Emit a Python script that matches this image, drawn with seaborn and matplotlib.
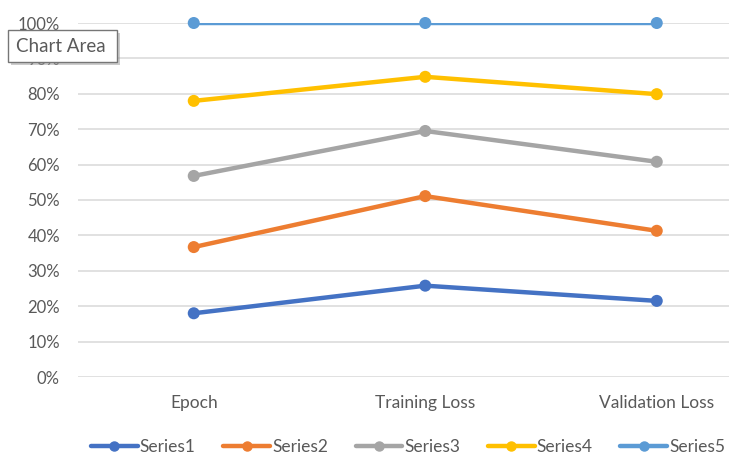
import numpy as np
import pandas as pd
import matplotlib
matplotlib.use("Agg")
import matplotlib.pyplot as plt
from matplotlib.lines import Line2D
from matplotlib.patches import Rectangle
import seaborn as sns

# Categories and per-series shares (percent of each category's total)
categories = ["Epoch", "Training Loss", "Validation Loss"]
series_names = ["Series1", "Series2", "Series3", "Series4", "Series5"]
series1 = [18.0, 25.8, 21.5]
series2 = [18.7, 25.3, 19.8]
series3 = [20.1, 18.4, 19.5]
series4 = [21.2, 15.3, 19.1]
series5 = [22.0, 15.2, 20.1]
y_ticks = [0, 10, 20, 30, 40, 50, 60, 70, 80, 90, 100]
colors = ["#4472C4", "#ED7D31", "#A5A5A5", "#FFC000", "#5B9BD5"]

sns.set_theme(style="white")
plt.rcParams["font.family"] = ["Lato", "DejaVu Sans"]
text_color = "#595959"

# 100% stacked: cumulative share of the category total
values = np.array([series1, series2, series3, series4, series5])
stacked = np.cumsum(values, axis=0) / values.sum(axis=0) * 100
rows = []
for name, vals in zip(series_names, stacked):
    for cat, v in zip(categories, vals):
        rows.append({"category": cat, "series": name, "value": v})
df = pd.DataFrame(rows)

fig = plt.figure(figsize=(7.29, 4.55), dpi=100)
W, H = 729, 455
ax = fig.add_axes([78 / W, (H - 377) / H, 694.5 / W, 354 / H])

palette = dict(zip(series_names, colors))
sns.lineplot(data=df, x="category", y="value", hue="series", palette=palette,
             linewidth=3.2, sort=False, legend=False, ax=ax, zorder=3)
sns.scatterplot(data=df, x="category", y="value", hue="series", palette=palette,
                s=75, linewidth=0, legend=False, ax=ax, zorder=4, clip_on=False)

ax.set_xlim(-0.5, 2.5)
ax.set_ylim(0, 100)
ax.set_yticks(y_ticks)
ax.set_yticklabels([f"{t}%" for t in y_ticks])
ax.grid(axis="y", color="#D9D9D9", linewidth=1.1)
ax.grid(axis="x", visible=False)
for s in ax.spines.values():
    s.set_visible(False)
ax.set_xlabel("")
ax.set_ylabel("")
ax.tick_params(axis="y", length=0, pad=13, labelsize=12, labelcolor=text_color)
ax.tick_params(axis="x", length=0, pad=13, labelsize=12.5, labelcolor=text_color)

handles = [Line2D([0], [0], color=c, linewidth=3.2, marker="o", markersize=6.5)
           for c in colors]
fig.legend(handles, series_names, loc="center", bbox_to_anchor=(408 / W, 1 - 447 / H),
           ncol=5, frameon=False, fontsize=12.5, handlelength=2.7, handletextpad=0.1,
           columnspacing=1.6, labelcolor=text_color)

# "Chart Area" hover tip in the upper-left corner
shadow = Rectangle((11 / W, 1 - 65 / H), 109 / W, 32 / H, transform=fig.transFigure,
                   facecolor="#9a9a9a", edgecolor="none", alpha=0.5, zorder=9)
box = Rectangle((8 / W, 1 - 62 / H), 109 / W, 32 / H, transform=fig.transFigure,
                facecolor="white", edgecolor="#767676", linewidth=1.0, zorder=10)
fig.add_artist(shadow)
fig.add_artist(box)
fig.text(16 / W, 1 - 46.5 / H, "Chart Area", fontsize=13.5, color="#5a5a5a",
         va="center", ha="left", zorder=11)

fig.savefig("out.png", dpi=100)
